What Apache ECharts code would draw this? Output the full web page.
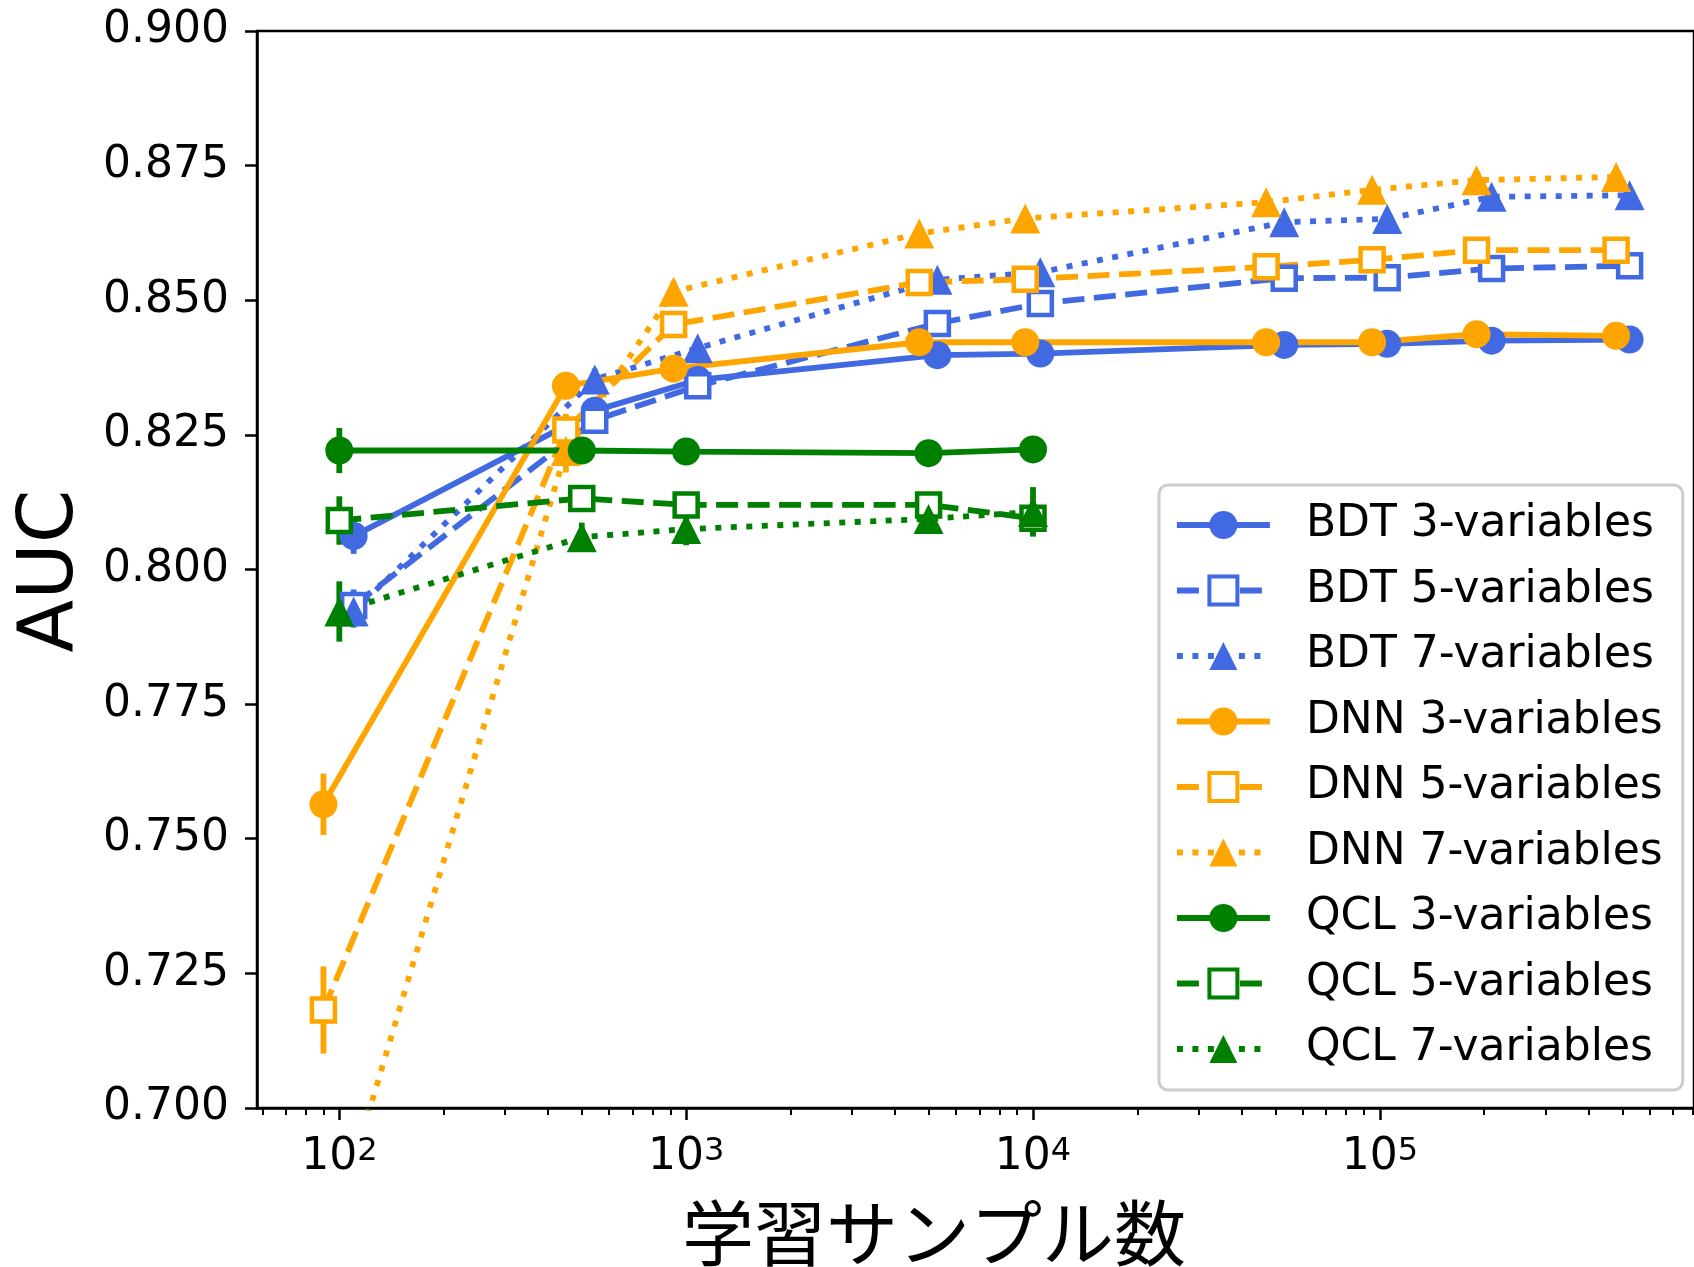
<!DOCTYPE html>
<html>
<head>
<meta charset="utf-8">
<script src="https://cdn.jsdelivr.net/npm/echarts@6/dist/echarts.min.js"></script>
<style>
html, body { margin: 0; padding: 0; background: #fff; }
#chart { width: 1694px; height: 1267px; }
</style>
</head>
<body>
<div id="chart"></div>
<script>
// 学習サンプル数 (x) for each model
var bdtSamples = [110, 545, 1080, 5300, 10500, 53000, 105000, 210000, 525000];
var dnnSamples = [90, 450, 920, 4700, 9500, 47000, 95000, 190000, 480000];
var qclSamples = [100, 500, 1000, 5000, 10000];

// AUC values
var bdt3 = [0.8062, 0.8295, 0.8352, 0.8398, 0.8401, 0.8417, 0.8419, 0.8425, 0.8427];
var bdt5 = [0.7933, 0.8277, 0.8341, 0.8457, 0.8494, 0.8541, 0.8542, 0.8559, 0.8564];
var bdt7 = [0.7922, 0.8353, 0.8411, 0.8538, 0.8552, 0.8645, 0.8651, 0.8692, 0.8695];
var dnn3 = [0.7564, 0.8341, 0.8373, 0.8422, 0.8422, 0.8422, 0.8422, 0.8437, 0.8434];
var dnn5 = [0.7182, 0.8259, 0.8455, 0.8533, 0.8539, 0.8562, 0.8575, 0.8593, 0.8593];
var dnn7 = [0.671, 0.822, 0.8516, 0.8624, 0.8652, 0.8682, 0.8705, 0.8723, 0.8729];
var qcl3 = [0.8221, 0.8221, 0.8219, 0.8216, 0.8223];
var qcl5 = [0.8091, 0.8132, 0.8120, 0.8120, 0.8095];
var qcl7 = [0.7922, 0.8060, 0.8075, 0.8094, 0.8107];

// error bar half widths
var bdt3Err = [0.0033, 0.002, 0.001, 0.001, 0.001, 0.0005, 0.0005, 0.0005, 0.0005];
var bdt5Err = [0.003, 0.002, 0.001, 0.001, 0.001, 0.0005, 0.0005, 0.0005, 0.0005];
var bdt7Err = [0.003, 0.002, 0.001, 0.001, 0.001, 0.0005, 0.0005, 0.0005, 0.0005];
var dnn3Err = [0.0057, 0.002, 0.001, 0.001, 0.001, 0.0005, 0.0005, 0.0005, 0.0005];
var dnn5Err = [0.0081, 0.003, 0.0015, 0.001, 0.001, 0.0005, 0.0005, 0.0005, 0.0005];
var dnn7Err = [0.01, 0.004, 0.002, 0.001, 0.001, 0.0005, 0.0005, 0.0005, 0.0005];
var qcl3Err = [0.0042, 0.002, 0.001, 0.001, 0.001];
var qcl5Err = [0.0045, 0.002, 0.002, 0.0015, 0.0028];
var qcl7Err = [0.0056, 0.0027, 0.003, 0.002, 0.0046];

var legendNames = ['BDT 3-variables', 'BDT 5-variables', 'BDT 7-variables',
	'DNN 3-variables', 'DNN 5-variables', 'DNN 7-variables',
	'QCL 3-variables', 'QCL 5-variables', 'QCL 7-variables'];

var xTickExps = [2, 3, 4, 5];
var xMin = 57.9;
var xMax = 805000;

var blue = '#4169e1', orange = '#ffa500', green = '#008000';
var lw = 5.8;

// 小目盛り 2..9 x 10^n
var minorTicks = [];
for (var e = 1; e <= 5; e++) {
	for (var k = 2; k <= 9; k++) {
		var lv = Math.log10(k * Math.pow(10, e));
		if (lv > Math.log10(xMin) && lv < Math.log10(xMax)) minorTicks.push(lv);
	}
}

function lineSeries(name, xs, ys, color, kind) {
	var s = {
		name: name,
		type: 'line',
		xAxisIndex: 0,
		yAxisIndex: 0,
		z: 2,
		clip: true,
		showSymbol: true,
		data: xs.map(function(x, i) { return [x, ys[i]]; }),
		lineStyle: { color: color, width: lw, cap: 'butt' }
	};
	if (kind == 3) {
		s.symbol = 'circle';
		s.symbolSize = 28;
		s.lineStyle.type = 'solid';
		s.itemStyle = { color: color, borderWidth: 0 };
	} else if (kind == 5) {
		s.symbol = 'rect';
		s.symbolSize = 23;
		s.lineStyle.type = [22, 9.5];
		s.itemStyle = { color: '#ffffff', borderColor: color, borderWidth: 4.5 };
	} else {
		s.symbol = 'triangle';
		s.symbolSize = 30;
		s.lineStyle.type = [6, 9.5];
		s.itemStyle = { color: color, borderWidth: 0 };
	}
	return s;
}

function errSeries(name, xs, ys, errs, color) {
	return {
		name: name + ' err',
		type: 'custom',
		xAxisIndex: 0,
		yAxisIndex: 0,
		z: 1,
		clip: true,
		data: xs.map(function(x, i) { return [x, ys[i], errs[i]]; }),
		encode: { x: 0, y: 1 },
		renderItem: function(params, api) {
			var x = api.value(0), y = api.value(1), er = api.value(2);
			var p1 = api.coord([x, y - er]);
			var p2 = api.coord([x, y + er]);
			return {
				type: 'line',
				shape: { x1: p1[0], y1: p1[1], x2: p2[0], y2: p2[1] },
				style: { stroke: color, lineWidth: lw }
			};
		}
	};
}

var groups = [
	[legendNames[0], bdtSamples, bdt3, bdt3Err, blue, 3],
	[legendNames[1], bdtSamples, bdt5, bdt5Err, blue, 5],
	[legendNames[2], bdtSamples, bdt7, bdt7Err, blue, 7],
	[legendNames[3], dnnSamples, dnn3, dnn3Err, orange, 3],
	[legendNames[4], dnnSamples, dnn5, dnn5Err, orange, 5],
	[legendNames[5], dnnSamples, dnn7, dnn7Err, orange, 7],
	[legendNames[6], qclSamples, qcl3, qcl3Err, green, 3],
	[legendNames[7], qclSamples, qcl5, qcl5Err, green, 5],
	[legendNames[8], qclSamples, qcl7, qcl7Err, green, 7]
];

var series = [];
for (var i = 0; i < groups.length; i++) {
	var g = groups[i];
	series.push(errSeries(g[0], g[1], g[2], g[3], g[4]));
}
for (var i = 0; i < groups.length; i++) {
	var g = groups[i];
	series.push(lineSeries(g[0], g[1], g[2], g[4], g[5]));
}

var chart = echarts.init(document.getElementById('chart'));
var option = {
	animation: false,
	backgroundColor: '#ffffff',
	grid: {
		left: 257,
		top: 31,
		width: 1447,
		height: 1077,
		show: true,
		borderColor: '#000',
		borderWidth: 2.5,
		backgroundColor: 'transparent'
	},
	xAxis: [{
		type: 'log',
		logBase: 10,
		min: xMin,
		max: xMax,
		show: false
	}, {
		type: 'value',
		position: 'bottom',
		min: Math.log10(xMin),
		max: Math.log10(xMax),
		axisLine: { show: true, lineStyle: { color: '#000', width: 2.5 } },
		axisTick: { show: true, length: 12, lineStyle: { color: '#000', width: 2.5 }, customValues: xTickExps },
		axisLabel: {
			customValues: xTickExps,
			margin: 28,
			formatter: function(v) { return '{b|10}{s|' + Math.round(v) + '}'; },
			rich: {
				b: { fontFamily: 'DejaVu Sans', fontSize: 44, lineHeight: 44, color: '#000' },
				s: { fontFamily: 'DejaVu Sans', fontSize: 32, lineHeight: 32, color: '#000', verticalAlign: 'top' }
			}
		},
		splitLine: { show: false }
	}, {
		type: 'value',
		position: 'bottom',
		min: Math.log10(xMin),
		max: Math.log10(xMax),
		axisLine: { show: false },
		axisTick: { show: true, length: 7, lineStyle: { color: '#000', width: 2 }, customValues: minorTicks },
		axisLabel: { show: false },
		splitLine: { show: false }
	}],
	yAxis: {
		type: 'value',
		min: 0.7,
		max: 0.9,
		interval: 0.025,
		axisLine: { show: true, lineStyle: { color: '#000', width: 2.5 } },
		axisTick: { show: true, length: 12, lineStyle: { color: '#000', width: 2.5 } },
		axisLabel: {
			fontFamily: 'DejaVu Sans',
			fontSize: 44,
			color: '#000',
			margin: 28,
			formatter: function(v) { return v.toFixed(3); }
		},
		splitLine: { show: false }
	},
	legend: {
		data: legendNames.map(function(n, i) {
			var it = { name: n };
			if (i % 3 == 1) it.itemStyle = { borderWidth: 4 };
			return it;
		}),
		orient: 'vertical',
		left: 1159,
		top: 485,
		itemWidth: 93,
		itemHeight: 35,
		itemGap: 21.5,
		padding: [18, 20, 19, 15],
		backgroundColor: 'rgba(255,255,255,0.8)',
		borderColor: '#cccccc',
		borderWidth: 3,
		borderRadius: 9,
		selectedMode: false,
		lineStyle: { width: lw },
		textStyle: {
			fontFamily: 'DejaVu Sans',
			fontSize: 44,
			lineHeight: 44,
			color: '#000',
			padding: [0, 0, 0, 31]
		}
	},
	graphic: [{
		type: 'text',
		x: 52,
		y: 571,
		rotation: Math.PI / 2,
		style: {
			text: 'AUC',
			fontFamily: 'DejaVu Sans',
			fontSize: 77,
			fill: '#000',
			align: 'center',
			verticalAlign: 'middle'
		}
	}, {
		type: 'text',
		x: 934,
		y: 1233,
		style: {
			text: '学習サンプル数',
			fontFamily: 'Noto Sans CJK JP',
			fontSize: 72,
			fill: '#000',
			align: 'center',
			verticalAlign: 'middle'
		}
	}],
	series: series
};
chart.setOption(option);
</script>
</body>
</html>
